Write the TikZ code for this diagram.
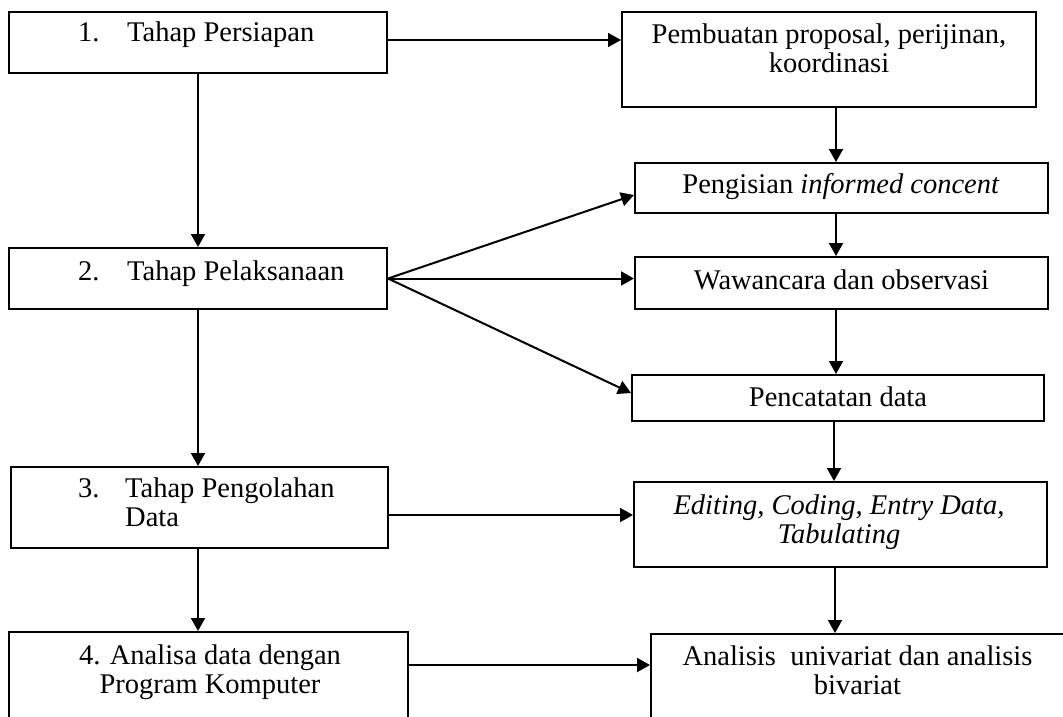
\documentclass[tikz,border=0pt]{standalone}
\usepackage{fontspec}
\setmainfont{Liberation Serif}
\usetikzlibrary{arrows.meta}
\begin{document}
\begin{tikzpicture}[x=1pt,y=-1pt,
  box/.style={draw, line width=2pt, rectangle, inner sep=0pt},
  txt/.style={font=\fontsize{28.5}{29}\selectfont, inner sep=0pt, anchor=base},
  arr/.style={line width=2pt, -{Triangle[length=13pt,width=14pt]}}]
\useasboundingbox (0,0) rectangle (1063,717);
\fill[white] (0,0) rectangle (1063,717);
\clip (0,0) rectangle (1063,717);
% left column
\node[box,minimum width=378pt,minimum height=61pt] (b1) at (198,42.5) {};
\node[box,minimum width=378pt,minimum height=61pt] (b2) at (198,278.5) {};
\node[box,minimum width=377pt,minimum height=81pt] (b3) at (199.5,507.5) {};
\node[box,minimum width=399pt,minimum height=128pt] (b4) at (208.5,696) {};
% right column
\node[box,minimum width=414pt,minimum height=95pt] (P) at (829,59.5) {};
\node[box,minimum width=413pt,minimum height=50pt] (I) at (841.5,188) {};
\node[box,minimum width=413pt,minimum height=52pt] (W) at (841.5,283) {};
\node[box,minimum width=412pt,minimum height=46pt] (Pc) at (838,398) {};
\node[box,minimum width=413pt,minimum height=85pt] (E) at (840.5,524.5) {};
\node[box,minimum width=429pt,minimum height=126pt] (A) at (865.5,697) {};
% texts (multi-line nodes: base = last line)
\node[txt,anchor=base west] (t1) at (78,42) {\makebox[49pt][l]{1.}Tahap Persiapan};
\node[txt,anchor=base west] (t2) at (78,280) {\makebox[49pt][l]{2.}Tahap Pelaksanaan};
\node[txt,anchor=base west,align=left] (t3) at (78,526) {\makebox[47pt][l]{3.}Tahap Pengolahan\\\hspace*{47pt}Data};
\node[txt,align=center] (t4) at (210,693) {4. Analisa data dengan\\Program Komputer};
\node[txt,align=center] (tP) at (829,73) {Pembuatan proposal, perijinan,\\koordinasi};
\node[txt] (tI) at (841,193) {Pengisian \textit{informed concent}};
\node[txt] (tW) at (841.5,289) {Wawancara dan observasi};
\node[txt] (tPc) at (838,406) {Pencatatan data};
\node[txt,align=center] (tE) at (839,543) {\textit{Editing, Coding, Entry Data,}\\\textit{Tabulating}};
\node[txt,align=center] (tA) at (857.5,694) {Analisis\ \ univariat dan analisis\\bivariat};
% connectors
\draw[arr] ([yshift=2.5pt]b1.east) -- ([yshift=2.5pt]b1.east -| P.west);
\draw[arr] (b1.south) -- (b2.north);
\draw[arr] (b2.south) -- (b3.north -| b2.south);
\draw[arr] (b3.south -| b1.south) -- (b4.north -| b1.south);
\draw[arr] ([xshift=7pt]P.south) -- ([xshift=7pt]P.south |- I.north);
\draw[arr] ([xshift=-5.5pt]I.south) -- ([xshift=-5.5pt]I.south |- W.north);
\draw[arr] ([xshift=-5.5pt]W.south) -- ([xshift=-5.5pt]W.south |- Pc.north);
\draw[arr] ([xshift=-4pt]Pc.south) -- ([xshift=-4pt]Pc.south |- E.north);
\draw[arr] ([xshift=-5.5pt]E.south) -- ([xshift=-5.5pt]E.south |- A.north);
\draw[arr] (b2.east) -- ([yshift=-7pt]I.west);
\draw[arr] (b2.east) -- (b2.east -| W.west);
\draw[arr] (b2.east) -- ([yshift=5pt]Pc.west);
\draw[arr] ([yshift=-7.5pt]b3.east) -- ([yshift=-7.5pt]b3.east -| E.west);
\draw[arr] ([yshift=31pt]b4.east) -- ([yshift=31pt]b4.east -| A.west);
\end{tikzpicture}
\end{document}
